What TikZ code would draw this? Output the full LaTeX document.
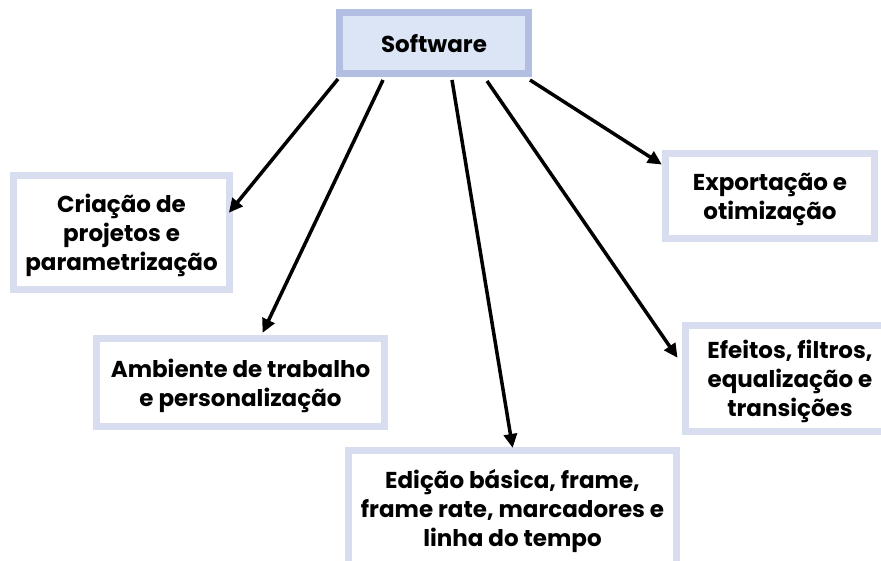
\documentclass[tikz,border=0pt]{standalone}
\usepackage{fontspec}
\setmainfont{Poppins}
\usetikzlibrary{arrows.meta}
\definecolor{swfill}{HTML}{DCE5F6}
\definecolor{swline}{HTML}{B3BEE3}
\definecolor{boxline}{HTML}{D8DDF0}
\tikzset{
  lbl/.style={font=\fontsize{23pt}{29pt}\selectfont\bfseries, align=center, inner sep=0pt, outer sep=0pt, text depth=0pt},
  box/.style={lbl, draw=boxline, line width=7pt, fill=white},
  topbox/.style={lbl, draw=swline, line width=7pt, fill=swfill},
  arr/.style={line width=3.5pt, -{Triangle[length=14pt,width=13pt]}, shorten >=-1pt}
}
\begin{document}
\begin{tikzpicture}[x=1pt,y=1pt]
\clip (0,0) rectangle (881,560);
\useasboundingbox (0,0) rectangle (881,560);
\fill[white] (0,0) rectangle (881,560);
\node[topbox, minimum width=189pt, minimum height=61pt] (sw) at (434,517) {Software};
\node[box, minimum width=216pt, minimum height=114pt] (cr) at (121.5,327.5) {Criação de\\projetos e\\parametrização};
\node[box, minimum width=288pt, minimum height=88pt] (am) at (240.5,177.5) {Ambiente de trabalho\\e personalização};
\node[box, minimum width=328pt, minimum height=114pt] (ed) at (512.5,52.5) {Edição básica, frame,\\frame rate, marcadores e\\linha do tempo};
\node[box, minimum width=209pt, minimum height=85pt] (ex) at (770,364) {Exportação e\\otimização};
\node[box, minimum width=209pt, minimum height=106pt] (ef) at (790,181.5) {Efeitos, filtros,\\equalização e\\transições};
\draw[arr] ([xshift=-96pt,yshift=-5.5pt]sw.south) -- ([yshift=20.5pt]cr.east);
\draw[arr] ([xshift=-51pt,yshift=-6.5pt]sw.south) -- ([xshift=22.5pt,yshift=6.5pt]am.north);
\draw[arr] ([xshift=18pt,yshift=-6.5pt]sw.south) -- ([yshift=3.5pt]ed.north);
\draw[arr] ([xshift=53pt,yshift=-7.5pt]sw.south) -- ([xshift=-8.5pt,yshift=21.5pt]ef.west);
\draw[arr] ([xshift=96pt,yshift=-6.5pt]sw.south) -- ([xshift=-4.5pt,yshift=32pt]ex.west);
\end{tikzpicture}
\end{document}
